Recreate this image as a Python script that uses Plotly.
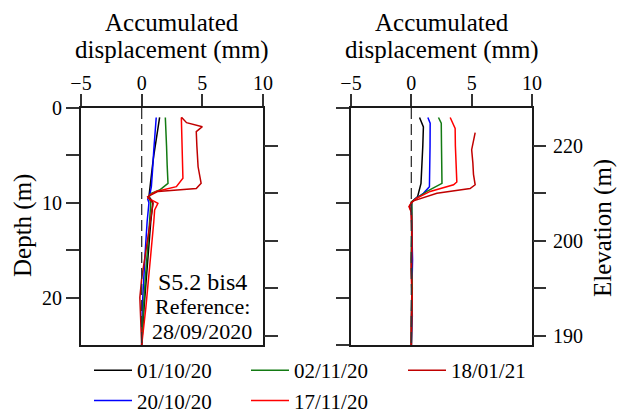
import plotly.graph_objects as go

# ---------------- data ----------------
SERIES_NAMES = ["01/10/20", "20/10/20", "02/11/20", "17/11/20", "18/01/21"]
SERIES_COLORS = ["#000000", "#0000ff", "#137a13", "#ff0000", "#c00000"]
LEGEND_RANKS = [1, 4, 2, 5, 3]

DISP_TICKS = [-5, 0, 5, 10]
DEPTH_TICKS = [0, 5, 10, 15, 20]
DEPTH_TICK_LABELS = ["0", "", "10", "", "20"]
DEPTH_TICKS_RIGHT_PANEL = [0, 5, 10, 15, 20, 25]
ELEV_TICK_DEPTHS = [4, 9, 14, 19, 24]
ELEV_TICK_LABELS = ["220", "", "200", "", "190"]

# Left panel
L_BLACK_DEPTH = [1.0, 2.0, 3.4, 5.0, 6.2, 7.5, 8.65, 9.35, 9.7, 10.0, 12, 15, 18, 21, 25]
L_BLACK_DISP = [1.48, 1.35, 1.2, 1.0, 0.88, 0.78, 0.66, 0.6, 0.8, 0.92, 0.75, 0.55, 0.35, 0.2, 0.0]
L_BLUE_DEPTH = [1.0, 2.5, 4.4, 6.5, 8.3, 9.2, 9.6, 10.0, 12, 15, 18, 21, 25]
L_BLUE_DISP = [1.2, 1.1, 1.0, 0.9, 0.8, 0.66, 0.5, 0.6, 0.45, 0.3, 0.15, 0.05, 0.0]
L_GREEN_DEPTH = [1.0, 2.0, 4.0, 6.0, 7.95, 8.65, 9.0, 9.4, 10.0, 12, 15, 18, 21, 25]
L_GREEN_DISP = [1.95, 2.0, 2.05, 2.1, 2.17, 1.48, 0.8, 0.6, 0.75, 0.65, 0.45, 0.3, 0.15, 0.0]
L_RED_DEPTH = [1.0, 3.0, 5.0, 7.4, 8.3, 8.8, 9.2, 9.5, 10.05, 10.76, 12, 15, 18, 21, 25]
L_RED_DISP = [3.27, 3.3, 3.35, 3.4, 2.86, 1.2, 0.66, 0.52, 1.34, 1.07, 1.0, 0.8, 0.6, 0.35, 0.0]
L_DRED_DEPTH = [0.98, 1.55, 1.97, 2.5, 4.0, 6.2, 7.95, 8.5, 8.8, 9.35, 10.05, 12, 15, 18, 20, 22, 25]
L_DRED_DISP = [3.28, 3.7, 5.0, 4.5, 4.55, 4.65, 4.9, 4.5, 1.35, 0.5, 0.94, 0.7, 0.35, 0.0, -0.15, -0.1, 0.0]

# Right panel
R_BLACK_DEPTH = [1.0, 2.0, 4.0, 6.0, 7.95, 9.35, 9.9, 10.5, 13, 16, 19, 22, 25]
R_BLACK_DISP = [0.68, 1.0, 0.95, 0.88, 0.8, 0.52, 0.05, 0.0, 0.05, 0.0, 0.05, 0.0, 0.0]
R_BLUE_DEPTH = [1.0, 1.6, 4.0, 6.0, 8.3, 9.0, 9.7, 10.0, 13, 16, 19, 22, 25]
R_BLUE_DISP = [1.37, 1.56, 1.55, 1.52, 1.5, 1.0, 0.2, 0.0, 0.05, 0.1, 0.05, 0.08, 0.0]
R_GREEN_DEPTH = [1.0, 1.6, 4.0, 6.0, 7.95, 8.8, 9.9, 10.5, 13, 16, 19, 22, 25]
R_GREEN_DISP = [2.25, 2.48, 2.5, 2.52, 2.54, 1.29, 0.0, 0.05, 0.05, 0.0, 0.08, 0.05, 0.0]
R_RED_DEPTH = [1.0, 1.6, 2.15, 4.0, 6.0, 7.8, 8.1, 8.8, 9.5, 10.0, 10.4, 11, 14, 17, 20, 23, 25]
R_RED_DISP = [3.22, 3.44, 3.63, 3.65, 3.7, 3.77, 3.5, 1.56, 0.46, 0.0, -0.2, 0.0, 0.05, 0.0, 0.05, 0.0, 0.0]
R_DRED_DEPTH = [2.6, 3.55, 4.4, 5.8, 7.0, 8.1, 8.5, 9.0, 9.8, 10.0, 10.4, 11, 14, 17, 20, 23, 25]
R_DRED_DISP = [5.29, 5.15, 5.0, 5.1, 5.15, 5.29, 4.87, 2.12, 0.18, 0.0, -0.15, 0.0, 0.05, 0.0, 0.05, 0.0, 0.0]

LEFT_SERIES = [(L_BLACK_DISP, L_BLACK_DEPTH), (L_BLUE_DISP, L_BLUE_DEPTH),
               (L_GREEN_DISP, L_GREEN_DEPTH), (L_RED_DISP, L_RED_DEPTH),
               (L_DRED_DISP, L_DRED_DEPTH)]
RIGHT_SERIES = [(R_BLACK_DISP, R_BLACK_DEPTH), (R_BLUE_DISP, R_BLUE_DEPTH),
                (R_GREEN_DISP, R_GREEN_DEPTH), (R_RED_DISP, R_RED_DEPTH),
                (R_DRED_DISP, R_DRED_DEPTH)]

# ---------------- layout geometry ----------------
# Page body has an 8px default margin, so targets (in window pixels) are shifted.
OFF = 8
W, H = 625, 414
BOX_TOP, BOX_BOTTOM = 108, 345
ML, MR = 60, 60
MT = BOX_TOP - OFF
MB = H - (BOX_BOTTOM - OFF)
GW = W - ML - MR
GH = H - MT - MB


def xd(px):
    return (px - OFF - ML) / GW


def yp(px):
    return (H - MB - (px - OFF)) / GH


FONT = "Liberation Serif, Times New Roman, serif"

fig = go.Figure()

for i, (name, color) in enumerate(zip(SERIES_NAMES, SERIES_COLORS)):
    xs, ys = LEFT_SERIES[i]
    fig.add_trace(go.Scatter(x=xs, y=ys, mode="lines", name=name,
                             line=dict(color=color, width=1.5),
                             legendgroup=name, legendrank=LEGEND_RANKS[i],
                             xaxis="x", yaxis="y", hoverinfo="skip"))
    xs, ys = RIGHT_SERIES[i]
    fig.add_trace(go.Scatter(x=xs, y=ys, mode="lines", name=name,
                             line=dict(color=color, width=1.5),
                             legendgroup=name, showlegend=False,
                             xaxis="x2", yaxis="y2", hoverinfo="skip"))

# empty traces to attach the elevation axes
fig.add_trace(go.Scatter(x=[], y=[], xaxis="x", yaxis="y3", showlegend=False))
fig.add_trace(go.Scatter(x=[], y=[], xaxis="x2", yaxis="y4", showlegend=False))

axis_common = dict(showline=True, linecolor="#1a1a1a", linewidth=2, mirror=True,
                   ticks="outside", ticklen=13, tickwidth=1.5, tickcolor="#333",
                   showgrid=False, zeroline=False,
                   tickfont=dict(family=FONT, size=20, color="black"))

x_common = dict(axis_common, range=[-5, 10], tickvals=DISP_TICKS, side="top",
                ticklen=12, ticklabelstandoff=-4)
fig.update_layout(
    xaxis=dict(x_common, domain=[xd(81), xd(263)], anchor="y"),
    xaxis2=dict(x_common, domain=[xd(351), xd(532)], anchor="y2"),
    yaxis=dict(axis_common, range=[25, 0], tickvals=DEPTH_TICKS,
               ticktext=DEPTH_TICK_LABELS, anchor="x", domain=[0, 1]),
    yaxis2=dict(axis_common, range=[25, 0], tickvals=DEPTH_TICKS_RIGHT_PANEL,
                showticklabels=False, anchor="x2", domain=[0, 1]),
    yaxis3=dict(range=[25, 0], overlaying="y", side="right", anchor="x",
                tickvals=ELEV_TICK_DEPTHS, showticklabels=False,
                ticks="outside", ticklen=14, tickwidth=1.5, tickcolor="#333",
                showgrid=False, zeroline=False, showline=False),
    yaxis4=dict(range=[25, 0], overlaying="y2", side="right", anchor="x2",
                tickvals=ELEV_TICK_DEPTHS, ticktext=ELEV_TICK_LABELS,
                ticks="outside", ticklen=13, tickwidth=1.5, tickcolor="#333",
                ticklabelstandoff=3,
                showgrid=False, zeroline=False, showline=False,
                tickfont=dict(family=FONT, size=20, color="black")),
)

# dashed zero lines
for xr, yr in (("x", "y"), ("x2", "y2")):
    fig.add_shape(type="line", xref=xr, yref=yr, x0=0, x1=0, y0=0, y1=25,
                  line=dict(color="#333", width=1.3, dash="11px,5px"))

ann = []
for xr in ("x domain", "x2 domain"):
    ann.append(dict(text="Accumulated", xref=xr, yref="paper", x=0.5, y=yp(22),
                    showarrow=False, font=dict(family=FONT, size=25, color="black"),
                    xanchor="center", yanchor="middle"))
    ann.append(dict(text="displacement (mm)", xref=xr, yref="paper", x=0.5, y=yp(50),
                    showarrow=False, font=dict(family=FONT, size=25, color="black"),
                    xanchor="center", yanchor="middle"))
ann.append(dict(text="Depth (m)", xref="paper", yref="paper", x=xd(23), y=yp(226),
                textangle=-90, showarrow=False,
                font=dict(family=FONT, size=25, color="black"),
                xanchor="center", yanchor="middle"))
ann.append(dict(text="Elevation (m)", xref="paper", yref="paper", x=xd(603), y=yp(228),
                textangle=-90, showarrow=False,
                font=dict(family=FONT, size=25, color="black"),
                xanchor="center", yanchor="middle"))
ann.append(dict(text="S5.2 bis4", xref="x", yref="y", x=5, y=18.35, showarrow=False,
                font=dict(family=FONT, size=24, color="black"),
                xanchor="center", yanchor="middle"))
ann.append(dict(text="Reference:", xref="x", yref="y", x=5, y=20.9, showarrow=False,
                font=dict(family=FONT, size=22, color="black"),
                xanchor="center", yanchor="middle"))
ann.append(dict(text="28/09/2020", xref="x", yref="y", x=5, y=23.6, showarrow=False,
                font=dict(family=FONT, size=22, color="black"),
                xanchor="center", yanchor="middle"))

fig.update_layout(
    annotations=ann,
    width=W, height=H,
    margin=dict(l=ML, r=MR, t=MT, b=MB, autoexpand=False),
    paper_bgcolor="white", plot_bgcolor="white",
    showlegend=True,
    legend=dict(orientation="h", x=xd(89), y=yp(350), xanchor="left", yanchor="top",
                font=dict(family=FONT, size=21, color="black"),
                entrywidth=104, entrywidthmode="pixels", itemwidth=38,
                traceorder="normal", bgcolor="rgba(0,0,0,0)", borderwidth=0),
    font=dict(family=FONT, color="black"),
)

fig.write_html("out.html")
